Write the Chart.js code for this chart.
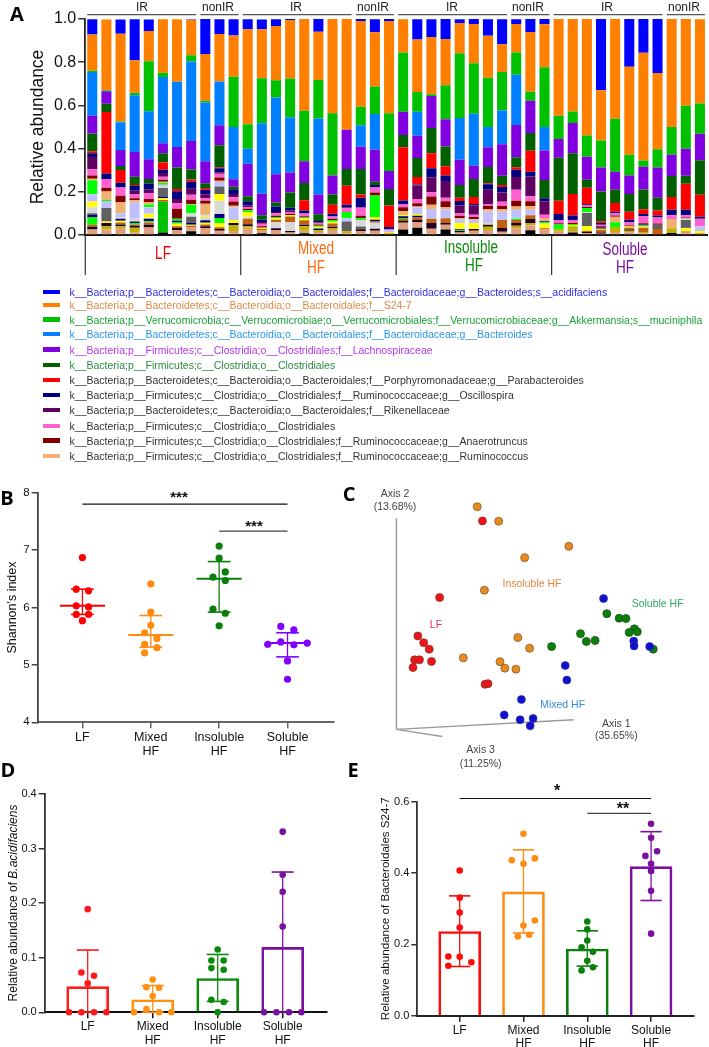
<!DOCTYPE html>
<html><head><meta charset="utf-8">
<script src="https://cdn.jsdelivr.net/npm/chart.js@4"></script>
<style>
html,body{margin:0;padding:0;background:#fff}
#page{position:relative;width:709px;height:1047px;overflow:hidden;font-family:"Liberation Sans",Arial,sans-serif;background:#fff}
#page canvas{position:absolute}
.t{position:absolute;transform:translate(-50%,-50%);white-space:nowrap;line-height:1}
.l{position:absolute;transform:translateY(-50%);white-space:nowrap;line-height:1}
</style></head><body><div id="page"></div>
<script>
// ---------- Panel A: relative abundance (thousandths), top of the stack first ----------
const aBlue=[71,0,66,190,54,0,0,3,162,69,75, 46,46,31,5,0,60,0,0,9,60,9, 0,94,82,94,18,23,77,116,22,60,25, 0,0,0,331,0,222,157,251,0,0,0];
const aOrange=[168,328,407,151,140,248,290,163,217,219,191, 440,226,251,270,425,223,436,513,397,251,427, 154,243,265,214,139,182,194,128,132,277,199, 448,428,539,233,462,407,499,353,501,402,390];
const aGreen=[5,5,3,11,231,20,0,29,8,0,233, 114,209,80,180,234,179,288,0,86,128,268, 274,91,8,157,300,234,228,179,103,42,277, 108,54,99,125,245,97,29,85,128,199,140];
const aLtBlue=[203,0,129,263,222,306,302,368,271,203,242, 69,326,356,256,0,351,0,0,100,165,0, 0,111,0,0,194,240,94,156,233,0,109, 0,0,0,0,0,0,0,0,0,0,0];
const aPurple=[82,57,74,114,92,46,95,132,102,92,35, 151,100,131,92,100,92,88,182,102,149,83, 108,103,149,126,116,62,91,146,149,149,136, 86,139,106,111,83,85,105,139,99,125,123];
const aDkGreen=[82,38,18,38,20,43,99,46,22,102,11, 23,20,18,71,80,31,48,77,119,14,77, 57,89,117,92,60,83,75,43,46,82,85, 199,189,37,137,62,82,92,60,97,37,160];
const aRed=[9,285,59,5,0,34,11,11,9,5,0, 0,0,0,0,48,0,42,88,14,0,99, 246,34,69,43,15,32,5,9,12,97,0, 62,100,77,8,40,37,22,23,59,120,102];
const aNavy=[18,26,22,22,28,15,35,32,20,18,22, 20,11,25,12,14,8,12,11,45,12,9, 17,5,42,25,20,8,26,25,34,22,14, 28,20,6,8,6,12,9,9,25,25,9];
const aRiken=[57,0,0,17,18,17,20,28,18,8,15, 6,8,6,8,0,0,0,5,2,0,0, 0,62,69,77,37,42,66,43,59,92,62, 0,0,0,0,0,0,0,0,0,0,0];
const aPink=[29,40,38,18,26,14,26,23,12,17,20, 9,12,12,8,12,8,11,18,37,23,5, 14,20,20,17,11,11,8,20,51,23,15, 15,14,6,8,12,15,34,28,18,11,35];
const aDkRed=[15,18,29,9,14,9,46,20,14,15,20, 6,6,6,6,6,6,6,0,11,14,0, 18,15,38,26,11,9,15,15,26,22,0, 5,5,5,5,5,5,5,5,0,5,0];
const aTan=[6,38,52,11,12,6,0,3,51,6,6, 0,0,0,0,0,0,0,0,0,0,0, 18,3,20,11,5,3,11,11,15,17,15, 0,0,0,0,26,0,0,0,43,0,0];
const aLime=[65,6,0,0,12,8,9,38,0,0,0, 8,0,6,0,5,5,8,28,8,100,0, 0,0,0,0,0,0,0,0,0,0,0, 22,5,18,0,22,0,0,0,0,0,0];
const aPeri=[34,32,18,75,31,6,0,0,5,20,59, 0,0,0,0,0,0,0,15,0,0,9, 0,32,45,42,18,15,57,38,42,26,0, 0,0,0,0,0,0,0,0,0,0,22];
const aGrayU=[0,0,0,0,0,0,0,0,0,35,0, 0,0,0,0,0,0,0,0,0,0,0, 0,0,0,0,0,0,0,0,0,0,0, 0,0,0,0,0,0,0,0,0,0,0];
const aYellow=[26,0,0,0,18,0,0,0,6,31,0, 23,0,0,0,0,8,0,0,0,12,0, 6,8,0,0,28,28,0,0,0,0,0, 0,5,0,0,0,0,0,0,0,0,0];
const aLGreyA=[28,0,8,12,5,9,0,17,15,62,0, 9,0,0,0,0,0,0,0,31,0,0, 0,0,0,0,0,0,0,0,0,0,0, 0,0,5,0,0,0,0,0,0,6,0];
const aGrayL=[8,62,0,0,0,40,0,29,0,0,0, 0,0,0,0,0,0,0,46,12,0,0, 0,0,0,0,0,0,0,0,0,0,0, 0,0,62,0,0,0,0,20,0,31,0];
const aNavy2=[12,0,9,8,11,8,8,8,11,18,0, 0,0,0,0,0,8,0,0,0,8,0, 8,8,0,0,6,0,0,0,0,0,5, 0,0,0,6,0,0,5,0,0,6,0];
const aLime2=[34,0,0,6,6,0,6,0,0,23,0, 0,0,0,0,0,0,0,0,0,0,0, 5,0,0,0,3,0,0,0,5,0,6, 0,0,0,0,0,0,5,0,0,0,0];
const aYellow2=[0,8,8,0,0,8,12,5,8,20,15, 0,6,6,6,8,0,8,0,0,0,5, 0,0,0,0,0,0,5,0,0,0,22, 0,0,20,5,0,5,5,0,0,15,9];
const aSienna=[9,0,9,6,11,8,8,8,8,8,0, 25,5,12,26,20,0,15,0,0,6,0, 9,12,20,22,0,0,0,38,15,17,6, 0,0,5,12,0,9,20,28,0,0,0];
const aLGreyB=[0,0,0,0,0,0,0,0,0,0,0, 0,0,28,42,0,0,0,0,0,28,0, 0,0,0,0,0,0,0,0,0,0,0, 0,0,0,0,0,0,0,0,0,0,0];
const aBlack1=[12,15,9,9,12,0,9,0,9,8,9, 8,0,8,6,8,0,6,0,9,9,0, 8,9,26,8,6,8,9,17,12,18,0, 0,0,6,6,0,5,0,0,0,0,0];
const aOlive=[0,15,8,22,0,0,0,0,0,0,28, 8,0,0,0,20,8,9,9,0,0,0, 0,0,0,0,0,0,15,0,12,12,0, 12,23,0,0,23,8,6,0,22,0,0];
const aRosy=[26,25,32,12,35,0,23,18,32,20,18, 34,15,23,12,12,14,23,8,18,20,9, 32,26,29,22,12,20,23,15,31,22,25, 15,6,9,6,14,12,8,0,0,18,9];
const aGreen2=[0,0,0,0,0,143,0,0,0,0,0, 0,0,0,0,0,0,0,0,0,0,0, 0,0,0,0,0,0,0,0,0,0,0, 0,0,0,0,0,0,0,0,0,0,0];
const aBlack2=[0,0,0,0,0,11,0,17,0,0,0, 0,8,0,0,8,0,0,0,0,0,0, 25,34,0,25,0,0,0,0,0,22,0, 0,12,0,0,0,0,0,0,9,0,0];

const dietGroups=["LF","Mixed HF","Insoluble HF","Soluble HF"];
const subGroups=[["IR",8],["nonIR",3]];
const aTicks=[0,0.2,0.4,0.6,0.8,1.0];

const legendNames=[
"k__Bacteria;p__Bacteroidetes;c__Bacteroidia;o__Bacteroidales;f__Bacteroidaceae;g__Bacteroides;s__acidifaciens",
"k__Bacteria;p__Bacteroidetes;c__Bacteroidia;o__Bacteroidales;f__S24-7",
"k__Bacteria;p__Verrucomicrobia;c__Verrucomicrobiae;o__Verrucomicrobiales;f__Verrucomicrobiaceae;g__Akkermansia;s__muciniphila",
"k__Bacteria;p__Bacteroidetes;c__Bacteroidia;o__Bacteroidales;f__Bacteroidaceae;g__Bacteroides",
"k__Bacteria;p__Firmicutes;c__Clostridia;o__Clostridiales;f__Lachnospiraceae",
"k__Bacteria;p__Firmicutes;c__Clostridia;o__Clostridiales",
"k__Bacteria;p__Bacteroidetes;c__Bacteroidia;o__Bacteroidales;f__Porphyromonadaceae;g__Parabacteroides",
"k__Bacteria;p__Firmicutes;c__Clostridia;o__Clostridiales;f__Ruminococcaceae;g__Oscillospira",
"k__Bacteria;p__Bacteroidetes;c__Bacteroidia;o__Bacteroidales;f__Rikenellaceae",
"k__Bacteria;p__Firmicutes;c__Clostridia;o__Clostridiales",
"k__Bacteria;p__Firmicutes;c__Clostridia;o__Clostridiales;f__Ruminococcaceae;g__Anaerotruncus",
"k__Bacteria;p__Firmicutes;c__Clostridia;o__Clostridiales;f__Ruminococcaceae;g__Ruminococcus"];
const legendTextColors=["#2f2fe6","#dc8a48","#18a038","#2a96ec","#b438ea","#2a8a44","#333","#333","#333","#333","#333","#333"];
const legendRowY=[292.3,305.3,319.7,334.3,349.7,365,380,395,410,426,440.7,456];

// ---------- Panel B: Shannon's index ----------
const bValues=[[6.87,6.32,6.29,6.03,6.01,5.88,5.88,5.77],[6.41,5.92,5.69,5.56,5.46,5.36,5.30,5.21],[7.07,6.86,6.62,6.53,6.47,5.97,5.90,5.68],[5.67,5.61,5.40,5.36,5.35,5.38,5.07,4.75]];
const bJitter=[[0,-.09,.09,-.09,.09,-.09,.09,0],[0,0,0,-.09,.09,-.09,.09,-.09],[0,0,.09,-.09,.09,-.09,.09,0],[-.098,.093,-.098,-.29,.093,.288,0,0]];
const bMeans=[6.03,5.52,6.50,5.38];
const bHigh=[6.32,5.86,6.80,5.56];
const bLow=[5.88,5.31,5.92,5.14];
const bColors=["#ff0000","#ff8c10","#0a800a","#8000ff"];
const catLabels=["LF",["Mixed","HF"],["Insoluble","HF"],["Soluble","HF"]];

// ---------- Panel C: PCoA ordination, read in picture units ----------
const cInsolubleX=[408,474,690,554,430,533,569,365,478,493,527];
const cInsolubleY=[99,144,222,257,358,505,538,568,580,600,603];
const cLfX=[424,292,225,243,260,215,230,267,210,432,441];
const cLfY=[143,381,500,521,541,574,574,579,598,650,648];
const cMixedX=[797,890,891,939,679,684,544,491,540,580,571];
const cMixedY=[384,516,531,533,592,637,697,745,760,756,779];
const cSolubleX=[807,845,866,892,876,901,726,744,771,637,950];
const cSolubleY=[431,445,446,478,489,487,493,517,514,533,541];

// ---------- Panel D: B. acidifaciens ----------
const dValues=[[.189,.073,.067,.053,0,0,0,0],[.060,.046,.045,.030,.006,0,0,0],[.115,.095,.095,.081,.078,.023,.019,0],[.331,.252,.221,.157,0,0,0,0]];
const dJitter=[[0,-.097,.097,0,-.287,-.097,.097,.287],[0,-.097,.097,0,-.097,-.287,.097,.287],[0,-.097,.092,-.097,.092,-.097,.092,0],[0,0,0,0,-.287,-.097,.097,.287]];
const dMeans=[.047,.023,.062,.119];
const dHigh=[.114,.049,.106,.257];
const dLow=[0,0,.020,0];
const dColors=["#ff1a1a","#ff9010","#0a8a0a","#7a0fa0"];

// ---------- Panel E: Bacteroidales S24-7 ----------
const eValues=[[.407,.331,.289,.247,.166,.165,.150,.140],[.510,.436,.441,.426,.267,.253,.227,.222],[.264,.242,.211,.192,.179,.154,.136,.127],[.538,.499,.461,.448,.426,.406,.350,.230]];
const eJitter=[[0,0,0,0,-.178,0,.183,-.178],[0,-.183,.178,0,.178,0,.089,-.089],[0,0,0,-.089,.089,0,.089,-.089],[0,0,.094,-.089,0,0,0,0]];
const eMeans=[.236,.347,.187,.418];
const eHigh=[.336,.465,.238,.516];
const eLow=[.138,.232,.139,.323];
const eColors=["#ff0a0a","#ff8c10","#0a800a","#7a0fa0"];

// ---------- helpers ----------
Chart.defaults.font.family='"Liberation Sans",Arial,sans-serif';
Chart.defaults.color='#111';
const page=document.getElementById('page');
function text(cx,cy,s,o={}){
  const d=document.createElement('div');d.className=o.left?'l':'t';
  d.style.left=cx+'px';d.style.top=cy+'px';d.style.fontSize=(o.size||12)+'px';
  d.style.color=o.color||'#111';
  if(o.font)d.style.fontFamily=o.font;
  if(o.bold)d.style.fontWeight='700';
  if(o.rotate)d.style.transform='translate(-50%,-50%) rotate(-90deg)';
  if(o.sx)d.style.transform='translate(-50%,-50%) scaleX('+o.sx+')';
  if(o.html)d.innerHTML=s;else d.textContent=s;
  page.appendChild(d);return d;
}
function makeCanvas(x,y,w,h){
  const c=document.createElement('canvas');c.width=w;c.height=h;
  c.style.left=x+'px';c.style.top=y+'px';c.style.width=w+'px';c.style.height=h+'px';
  page.appendChild(c);return c;
}
// Plot box in canvas pixels: L,T (top left) and R,B (bottom right)
function fixBox(o,w,h,L,T,R,B){
  o.layout={padding:{left:0,top:T,right:w-R,bottom:0}};
  o.scales.y.afterFit=s=>{s.width=L};
  o.scales.x.afterFit=s=>{s.height=h-B};
  return o;
}
const base={responsive:false,animation:false,plugins:{legend:{display:false},tooltip:{enabled:false}}};
function seg(x1,y1,x2,y2,color,width){
  return {type:'scatter',showLine:true,data:[{x:x1,y:y1},{x:x2,y:y2}],borderColor:color,borderWidth:width,pointRadius:0,clip:false,fill:false};
}
function pts(xs,ys,color,r,edge,ew){
  return {type:'scatter',data:xs.map((x,i)=>({x,y:ys[i]})),backgroundColor:color,borderColor:edge||color,borderWidth:ew||0,pointRadius:r,clip:false};
}
function groupDatasets(values,jitter,colors,r){
  return values.map((v,g)=>pts(v.map((_,i)=>g+jitter[g][i]),v,colors[g],r));
}
function errDatasets(high,low,colors,cap,w){
  const out=[];
  high.forEach((h,g)=>{
    out.push(seg(g-cap,h,g+cap,h,colors[g],w));
    out.push(seg(g-cap,low[g],g+cap,low[g],colors[g],w));
    out.push(seg(g,low[g],g,h,colors[g],w*0.8));
  });
  return out;
}
function catScaleX(xmin,xmax,size,axisColor,dash){
  return {type:'linear',min:xmin,max:xmax,offset:false,
    afterBuildTicks:s=>{s.ticks=[0,1,2,3].map(v=>({value:v}))},
    ticks:{autoSkip:false,maxRotation:0,minRotation:0,padding:2,font:{size,lineHeight:1.12},color:'#111',callback:v=>catLabels[v]},
    grid:{drawOnChartArea:false,drawTicks:true,tickLength:6,color:axisColor,lineWidth:1.5,offset:false},
    border:{color:axisColor,width:2,dash:dash||[]}};
}
function valScaleY(min,max,step,size,axisColor,title,titleX,fmt,titleSize){
  const y={type:'linear',min,max,
    ticks:{stepSize:step,padding:2,font:{size},color:'#111',callback:fmt},
    grid:{drawOnChartArea:false,drawTicks:true,tickLength:6,color:axisColor,lineWidth:1.5},
    border:{color:axisColor,width:1.8}};
  if(title){y.title={display:true,text:title,font:{size:titleSize||12.5},color:'#111',padding:{top:titleX,bottom:0}};}
  return y;
}

// ---------- Panel A ----------
const aSeries=[
 [aBlue,'#0000ff'],[aOrange,'#ff8000'],[aGreen,'#00c000'],[aLtBlue,'#0080ff'],[aPurple,'#8000e0'],[aDkGreen,'#006000'],
 [aRed,'#ff0000'],[aNavy,'#000080'],[aRiken,'#600060'],[aPink,'#ff60d0'],[aDkRed,'#800000'],[aTan,'#f0b070'],
 [aLime,'#00ff00'],[aPeri,'#c0c0ff'],[aGrayU,'#606060'],[aYellow,'#ffff00'],[aLGreyA,'#d8d8d8'],[aGrayL,'#606060'],
 [aNavy2,'#000080'],[aLime2,'#00ff00'],[aYellow2,'#ffff00'],[aSienna,'#c06010'],[aLGreyB,'#d8d8d8'],[aBlack1,'#200020'],
 [aOlive,'#c0b000'],[aRosy,'#e0a080'],[aGreen2,'#00c000'],[aBlack2,'#000000']];
const legendSwatches=aSeries.slice(0,12).map(s=>s[1]);
const sampleLabels=[];
const blocks=[];
dietGroups.forEach(g=>subGroups.forEach(([sub,n])=>{
  blocks.push({sub,from:sampleLabels.length,to:sampleLabels.length+n-1});
  for(let i=1;i<=n;i++)sampleLabels.push(g+' '+sub+' '+i);
}));
const aBrackets={id:'aBrackets',afterDraw(ch){
  const c=ch.ctx,x=ch.scales.x,bottom=ch.chartArea.bottom;
  c.save();c.strokeStyle='#555';c.lineWidth=1.3;
  blocks.forEach(b=>{c.beginPath();c.moveTo(x.getPixelForValue(b.from)-5,14.7);c.lineTo(x.getPixelForValue(b.to)+5,14.7);c.stroke();});
  c.strokeStyle='#333';c.lineWidth=1.2;
  [0,11,22,33].forEach(i=>{const px=x.getPixelForValue(i)-7;c.beginPath();c.moveTo(px,bottom);c.lineTo(px,275);c.stroke();});
  c.restore();
}};
(function(){
  const W=709,H=278;
  const o=fixBox({...base,scales:{
    x:{type:'category',stacked:true,grid:{display:false},ticks:{display:false},border:{color:'#111',width:2}},
    y:{type:'linear',stacked:true,min:0,max:1,
       afterBuildTicks:s=>{s.ticks=aTicks.map(v=>({value:v}))},
       ticks:{font:{size:16},padding:2,color:'#111',callback:v=>v.toFixed(1)},
       grid:{drawOnChartArea:false,drawTicks:true,tickLength:7,color:'#333',lineWidth:1.5},
       border:{color:'#222',width:1.8},
       title:{display:true,text:'Relative abundance',font:{size:17.5},color:'#111',padding:{top:28,bottom:0}}}
  }},W,H,85.2,19,707,235);
  new Chart(makeCanvas(0,0,W,H),{type:'bar',plugins:[aBrackets],
    data:{labels:sampleLabels,datasets:aSeries.slice().reverse().map(([v,c])=>({data:v.map(t=>t/1000),backgroundColor:c,borderWidth:0,barPercentage:.71,categoryPercentage:1}))},
    options:o});
})();
[[142,'IR'],[218,'nonIR'],[296,'IR'],[373,'nonIR'],[452,'IR'],[528,'nonIR'],[607,'IR'],[684,'nonIR']].forEach(([x,s])=>text(x,6.5,s,{size:12,color:'#222'}));
[[163,253,'LF','#f00000'],[316,248,'Mixed','#ff6a10'],[316,267,'HF','#ff6a10'],[471,247,'Insoluble','#0a8a0a'],[474,265,'HF','#0a8a0a'],[625,249,'Soluble','#7a0fa0'],[625,267,'HF','#7a0fa0']]
  .forEach(([x,y,s,c])=>text(x,y,s,{size:18,color:c,sx:.75}));
text(17,14,'A',{size:20,bold:true,font:'"Open Sans",sans-serif',color:'#000'});

// legend for panel A
legendNames.forEach((n,i)=>{
  const s=document.createElement('div');
  s.style.cssText='position:absolute;left:42.5px;width:17.5px;height:4.5px;top:'+(legendRowY[i]-2.5)+'px;background:'+legendSwatches[i];
  page.appendChild(s);
  text(69.6,legendRowY[i],n,{left:true,size:10.5,color:legendTextColors[i]});
});

// ---------- Panel B ----------
(function(){
  const W=340,H=290,X0=0,Y0=470;
  const ds=[...groupDatasets(bValues,bJitter,bColors,3.6)];
  bMeans.forEach((m,g)=>ds.push(seg(g-.33,m,g+.33,m,bColors[g],2)));
  ds.push(...errDatasets(bHigh,bLow,bColors,.166,1.6));
  ds.push(seg(0,7.80,3,7.80,'#111',1.2),seg(2,7.33,3,7.33,'#444',1.2));
  const o=fixBox({...base,scales:{
    x:catScaleX(-.654,3.68,12.5,'#666'),
    y:valScaleY(4,8,1,11.5,'#444',"Shannon's index",5)
  }},W,H,37.7,22.7,334,252.3);
  new Chart(makeCanvas(X0,Y0,W,H),{type:'scatter',data:{datasets:ds},options:o});
})();
text(179,496,'***',{size:15,bold:true,color:'#111'});
text(254,525,'***',{size:15,bold:true,color:'#111'});
text(7,498,'B',{size:20,bold:true,font:'"Open Sans",sans-serif',color:'#000'});

// ---------- Panel C ----------
(function(){
  const W=369,H=290;
  const ds=[
    pts(cLfX,cLfY,'#f01020',4,'#80401a',.8),
    pts(cMixedX,cMixedY,'#1010d0',4,'#303090',.6),
    pts(cSolubleX,cSolubleY,'#0a800a',4,'#205020',.8),
    pts(cInsolubleX,cInsolubleY,'#e88a20',4,'#806030',.8),
    seg(159,135,159,790,'#999',1.4),seg(159,790,705,760,'#999',1.4),seg(159,790,300,812,'#999',1.4)
  ];
  new Chart(makeCanvas(340,470,W,H),{type:'scatter',data:{datasets:ds},options:{...base,
    layout:{padding:0},scales:{x:{display:false,min:0,max:1107},y:{display:false,min:0,max:870,reverse:true}}}});
})();
const cLab=(zx,zy,s,c)=>text(340+zx/3,470+zy/3,s,{size:10.5,color:c});
cLab(165,70,'Axis 2','#444');cLab(165,107,'(13.68%)','#444');
cLab(829,758,'Axis 1','#444');cLab(829,795,'(35.65%)','#444');
cLab(422,838,'Axis 3','#444');cLab(422,878,'(11.25%)','#444');
cLab(576,340,'Insoluble HF','#e08844');cLab(953,398,'Soluble HF','#30a860');
cLab(288,462,'LF','#e8305a');cLab(668,702,'Mixed HF','#3a8ad8');
text(349,494,'C',{size:20,bold:true,font:'"Open Sans",sans-serif',color:'#000'});

// ---------- Panel D ----------
(function(){
  const W=350,H=267,Y0=780;
  const ds=[...groupDatasets(dValues,dJitter,dColors,3.3),...errDatasets(dHigh,dLow,dColors,.17,1.6),
    {type:'bar',data:dMeans.map((m,g)=>({x:g,y:m})),backgroundColor:'rgba(0,0,0,0)',borderColor:dColors,borderWidth:2,barThickness:42,borderSkipped:'bottom'}];
  const o=fixBox({...base,scales:{
    x:catScaleX(-.6615,3.677,12,'#111',[3,1]),
    y:valScaleY(0,.4,.1,11,'#333',null,0,v=>v.toFixed(1))
  }},W,H,44.7,14,326.7,232.3);
  new Chart(makeCanvas(0,Y0,W,H),{type:'scatter',data:{datasets:ds},options:o});
})();
text(12.7,903,'Relative abundance of <i>B.acidifaciens</i>',{html:true,rotate:true,size:12,color:'#111'});
text(8,770,'D',{size:20,bold:true,font:'"Open Sans",sans-serif',color:'#000'});

// ---------- Panel E ----------
(function(){
  const W=354,H=262,X0=355,Y0=785;
  const ds=[...groupDatasets(eValues,eJitter,eColors,3.3),...errDatasets(eHigh,eLow,eColors,.167,1.6),
    seg(0,.609,3,.609,'#111',1.2),seg(2,.567,3,.567,'#444',1.2),
    {type:'bar',data:eMeans.map((m,g)=>({x:g,y:m})),backgroundColor:'rgba(0,0,0,0)',borderColor:eColors,borderWidth:2,barThickness:42,borderSkipped:'bottom'}];
  const o=fixBox({...base,scales:{
    x:catScaleX(-.6646,3.0*1+.673,12,'#222',[3,1]),
    y:valScaleY(0,.6,.2,11,'#333','Relative abundance of Bacteroidales S24-7',24,v=>v.toFixed(1),11.6)
  }},W,H,62.3,16.7,339,230.7);
  new Chart(makeCanvas(X0,Y0,W,H),{type:'scatter',data:{datasets:ds},options:o});
})();
text(557,791,'*',{size:16,bold:true,color:'#111'});
text(623,809,'**',{size:16,bold:true,color:'#111'});
text(353,770,'E',{size:20,bold:true,font:'"Open Sans",sans-serif',color:'#000'});
</script></body></html>
